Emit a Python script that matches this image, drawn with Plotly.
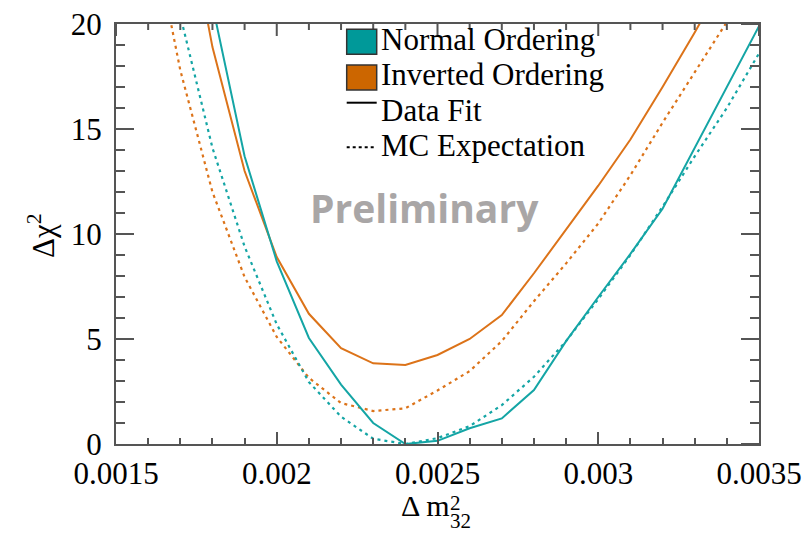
import plotly.graph_objects as go

# ---------------- data ----------------
dm32 = [0.0016, 0.0017, 0.0018, 0.0019, 0.0020, 0.0021, 0.0022, 0.0023, 0.0024, 0.0025,
        0.0026, 0.0027, 0.0028, 0.0029, 0.0030, 0.0031, 0.0032, 0.0033, 0.0034, 0.0035]

no_data = [34.0, 28.0, 20.9, 13.7, 8.7, 5.05, 2.83, 1.0, 0.0, 0.15,
           0.75, 1.22, 2.57, 4.9, 7.0, 9.05, 11.2, 14.1, 17.0, 19.9]
io_data = [34.0, 27.0, 18.9, 13.0, 8.9, 6.2, 4.56, 3.84, 3.76, 4.24,
           5.0, 6.14, 8.13, 10.2, 12.3, 14.5, 17.0, 19.6, 22.2, 25.0]
no_mc = [27.0, 20.4, 14.1, 9.4, 5.7, 2.95, 1.3, 0.25, 0.0, 0.28,
         0.85, 1.85, 3.2, 4.9, 6.9, 9.0, 11.3, 13.7, 16.0, 18.6]
io_mc = [25.5, 17.8, 12.0, 7.95, 5.1, 3.15, 1.95, 1.57, 1.7, 2.55,
         3.47, 4.9, 6.8, 8.6, 10.5, 12.8, 15.3, 17.7, 20.1, 22.5]

x_tickvals = [0.0015, 0.0020, 0.0025, 0.0030, 0.0035]
x_ticktext = ["0.0015", "0.002", "0.0025", "0.003", "0.0035"]
y_tickvals = [0, 5, 10, 15, 20]
y_ticktext = ["0", "5", "10", "15", "20"]

legend_labels = ["Normal Ordering", "Inverted Ordering", "Data Fit", "MC Expectation"]

TEAL_LINE = "#14a5a5"
ORANGE_LINE = "#dc7319"
TEAL_FILL = "#009999"
ORANGE_FILL = "#cc6600"
AXIS = "#555555"
SERIF = "Liberation Serif, Times New Roman, serif"

W, H = 807, 534
L, R, T, B = 116, 759, 24, 444
XR = [0.0015, 0.0035]
YR = [0, 20]
X_MINOR_STEP = 0.0001
Y_MINOR_STEP = 1


def px(xp):
    return (xp - L) / (R - L)


def py(yp):
    return (B - yp) / (B - T)


fig = go.Figure()
DOT = "3px,4px"
fig.add_trace(go.Scatter(x=dm32, y=io_mc, mode="lines",
                         line=dict(color=ORANGE_LINE, width=2.2, dash=DOT), showlegend=False))
fig.add_trace(go.Scatter(x=dm32, y=no_mc, mode="lines",
                         line=dict(color=TEAL_LINE, width=2.2, dash=DOT), showlegend=False))
fig.add_trace(go.Scatter(x=dm32, y=io_data, mode="lines",
                         line=dict(color=ORANGE_LINE, width=2), showlegend=False))
fig.add_trace(go.Scatter(x=dm32, y=no_data, mode="lines",
                         line=dict(color=TEAL_LINE, width=2), showlegend=False))

shapes = []
annotations = []

# mirrored ticks on the top and right frame edges (all in paper coordinates)
n_xminor = int(round((XR[1] - XR[0]) / X_MINOR_STEP))
for i in range(n_xminor + 1):
    v = round(XR[0] + i * X_MINOR_STEP, 6)
    major = any(abs(v - t) < 1e-9 for t in x_tickvals)
    ln = 12 if major else 6
    xf = (v - XR[0]) / (XR[1] - XR[0])
    shapes.append(dict(type="line", xref="paper", yref="paper", x0=xf, x1=xf,
                       y0=1, y1=1 - ln / (B - T), layer="above",
                       line=dict(color=AXIS, width=2)))
n_yminor = int(round((YR[1] - YR[0]) / Y_MINOR_STEP))
for i in range(n_yminor + 1):
    v = YR[0] + i * Y_MINOR_STEP
    major = v in y_tickvals
    ln = 18 if major else 9
    yf = (v - YR[0]) / (YR[1] - YR[0])
    shapes.append(dict(type="line", xref="paper", yref="paper", x0=1, x1=1 - ln / (R - L),
                       y0=yf, y1=yf, layer="above", line=dict(color=AXIS, width=2)))

# legend (drawn manually)
sq_x0, sq_x1 = px(346.7), px(376.7)
shapes.append(dict(type="rect", xref="paper", yref="paper", x0=sq_x0, x1=sq_x1,
                   y0=py(54.3), y1=py(29.3), fillcolor=TEAL_FILL,
                   line=dict(color="#333333", width=1.5)))
shapes.append(dict(type="rect", xref="paper", yref="paper", x0=sq_x0, x1=sq_x1,
                   y0=py(90), y1=py(65), fillcolor=ORANGE_FILL,
                   line=dict(color="#333333", width=1.5)))
shapes.append(dict(type="line", xref="paper", yref="paper", x0=sq_x0, x1=sq_x1,
                   y0=py(102.7), y1=py(102.7), line=dict(color="black", width=2)))
shapes.append(dict(type="line", xref="paper", yref="paper", x0=sq_x0, x1=sq_x1,
                   y0=py(147.3), y1=py(147.3), line=dict(color="black", width=2, dash="3px,3px")))

leg_y = [39.5, 74, 110, 145.5]
for lab, yy in zip(legend_labels, leg_y):
    annotations.append(dict(text=lab, xref="paper", yref="paper", x=px(379), y=py(yy),
                            xanchor="left", yanchor="middle", showarrow=False,
                            font=dict(family=SERIF, size=31, color="black")))

# watermark
annotations.append(dict(text="<b>Preliminary</b>", xref="paper", yref="paper",
                        x=px(424.5), y=py(207), xanchor="center", yanchor="middle",
                        showarrow=False,
                        font=dict(family="Open Sans, sans-serif", size=39, color="#a9a6a6")))

# y axis title
annotations.append(dict(text="Δχ<sup>2</sup>", xref="paper", yref="paper",
                        x=px(41), y=py(236), xanchor="center", yanchor="middle",
                        textangle=-90, showarrow=False,
                        font=dict(family=SERIF, size=31, color="black")))

# x axis title  (Δ m^2_32, stacked super/subscript)
annotations.append(dict(text="Δ m", xref="paper", yref="paper", x=px(399), y=py(506),
                        xanchor="left", yanchor="middle", showarrow=False,
                        font=dict(family=SERIF, size=30, color="black")))
annotations.append(dict(text="2", xref="paper", yref="paper", x=px(448), y=py(502.5),
                        xanchor="left", yanchor="middle", height=17, valign="middle",
                        showarrow=False, font=dict(family=SERIF, size=21, color="black")))
annotations.append(dict(text="32", xref="paper", yref="paper", x=px(448), y=py(520),
                        xanchor="left", yanchor="middle", height=17, valign="middle",
                        showarrow=False, font=dict(family=SERIF, size=21, color="black")))

fig.update_layout(
    template="none",
    width=W, height=H,
    margin=dict(l=L, r=W - R, t=T, b=H - B, autoexpand=False),
    paper_bgcolor="white", plot_bgcolor="white",
    shapes=shapes, annotations=annotations,
    showlegend=False,
)

tickfont = dict(family=SERIF, size=31, color="black")

fig.update_layout(
    xaxis=dict(
        range=XR, showgrid=False, zeroline=False, automargin=False,
        showline=True, linecolor=AXIS, linewidth=2, mirror=True,
        ticks="inside", ticklen=12, tickwidth=2, tickcolor=AXIS,
        tickmode="array", tickvals=x_tickvals, ticktext=x_ticktext,
        tickfont=tickfont, ticklabelstandoff=1,
        minor=dict(ticks="inside", ticklen=6, tickwidth=2, tickcolor=AXIS,
                   tickmode="linear", tick0=XR[0], dtick=X_MINOR_STEP, showgrid=False),
    ),
    yaxis=dict(
        range=YR, showgrid=False, zeroline=False, automargin=False,
        showline=True, linecolor=AXIS, linewidth=2, mirror=True,
        ticks="inside", ticklen=18, tickwidth=2, tickcolor=AXIS,
        tickmode="array", tickvals=y_tickvals, ticktext=y_ticktext,
        tickfont=tickfont, ticklabelstandoff=6,
        minor=dict(ticks="inside", ticklen=9, tickwidth=2, tickcolor=AXIS,
                   tickmode="linear", tick0=YR[0], dtick=Y_MINOR_STEP, showgrid=False),
    ),
)

fig.write_html("out.html")
